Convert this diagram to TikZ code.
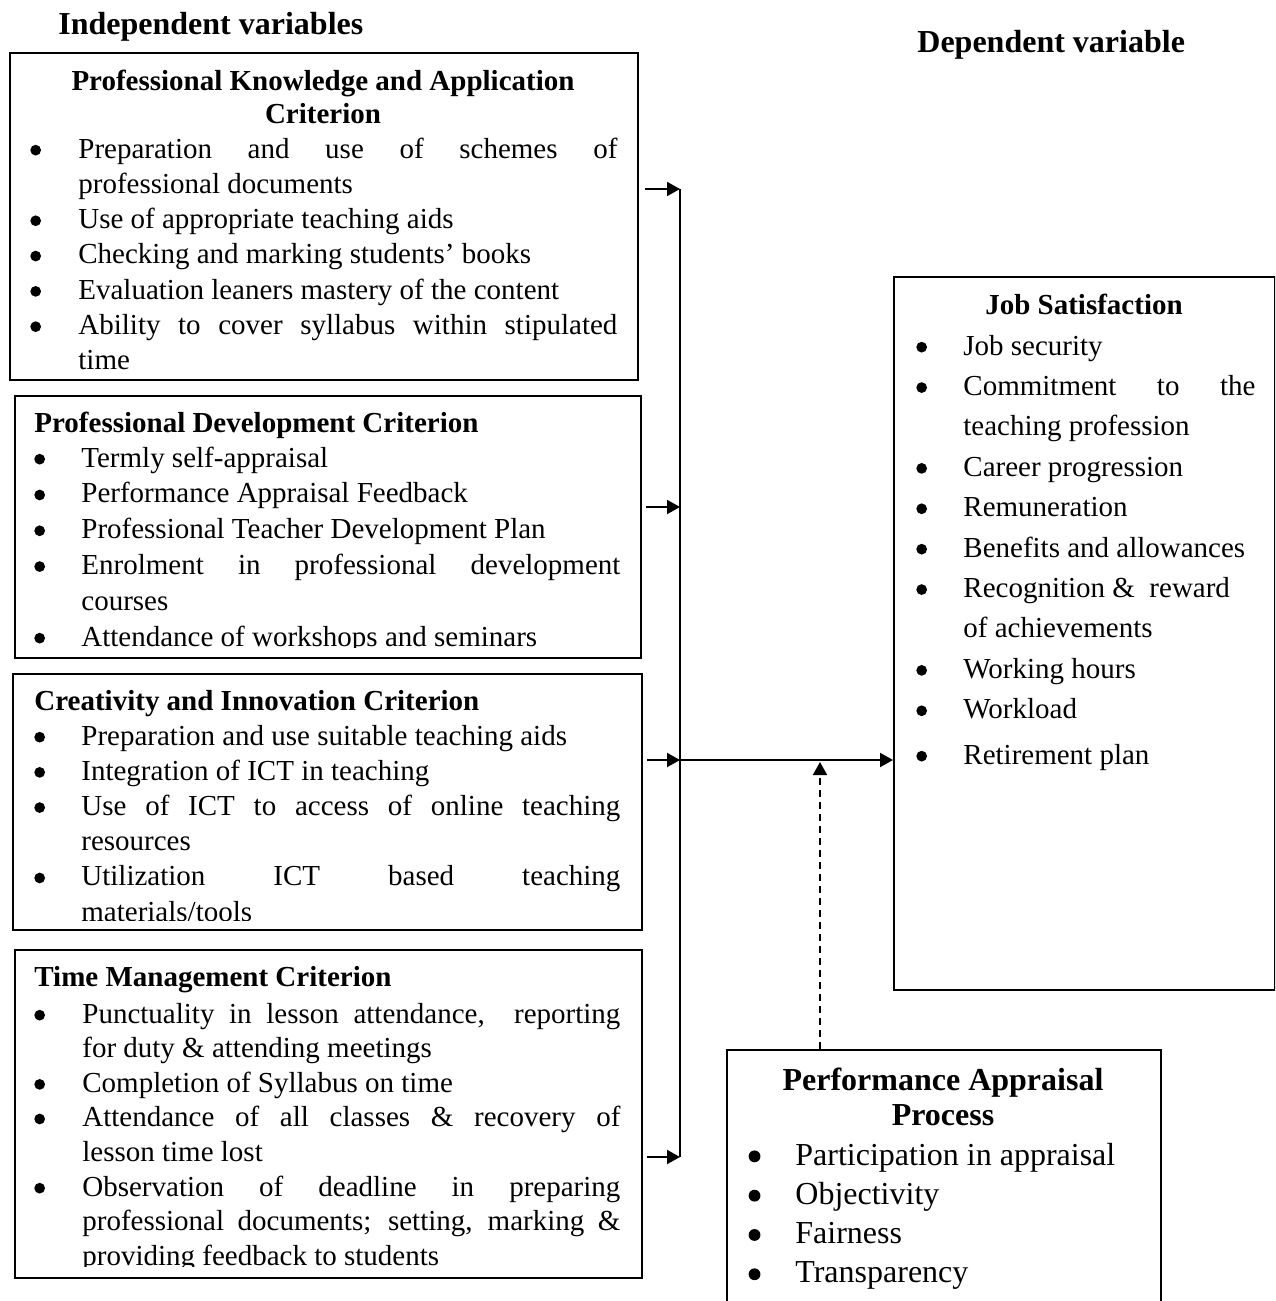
\documentclass[tikz,border=0pt]{standalone}
\usepackage{fontspec}
\setmainfont{Liberation Serif}
\usepackage{tikz}
\usetikzlibrary{arrows.meta}

\newdimen\px \px=0.5pt
\newlength\bulind
\newcommand{\bigdot}{\hspace{0.1em}\tikz[baseline=0pt]\fill (0,0.27em) circle (0.185em);}
\newcommand{\bitem}[1]{\par\hangindent=\bulind\hangafter=1\noindent\makebox[\bulind][l]{\bigdot}#1}
\newcommand{\listfont}[2]{\fontsize{#1}{#2}\selectfont\hyphenpenalty=10000\exhyphenpenalty=10000\tolerance=10000\lineskiplimit=-50pt}
\newcommand{\boxhead}{\fontsize{14.5pt}{17pt}\selectfont\bfseries}
\newcommand{\varhead}{\fontsize{16pt}{19pt}\selectfont\bfseries}

\begin{document}
\begin{tikzpicture}[x=0.5pt,y=-0.5pt,
    frame/.style={draw, line width=1pt, inner sep=0pt, anchor=north west},
    list/.style={anchor=base west, inner sep=0pt},
    head/.style={anchor=base west, inner sep=0pt, font=\boxhead},
    conn/.style={line width=1pt},
    arr/.style={conn, -{Triangle[length=6.5pt,width=7pt]}},
    dasharr/.style={arr, line width=0.8pt, dash pattern=on 3.5pt off 2.5pt}]
  \path[use as bounding box, clip] (0,0) rectangle (1275,1301);

  \node[anchor=base west, inner sep=0pt, font=\varhead] (indep) at (58,34) {Independent variables};
  \node[anchor=base west, inner sep=0pt, font=\varhead] (dep) at (917,53) {Dependent variable};

  \node[frame, minimum width=314pt, minimum height=163.5pt] (pk) at (9,52) {};
  \node[frame, minimum width=313pt, minimum height=131pt] (pd) at (14,395) {};
  \node[frame, minimum width=314.5pt, minimum height=128pt] (ci) at (12,673) {};
  \node[frame, minimum width=313.5pt, minimum height=164pt] (tm) at (14,949) {};
  \node[frame, minimum width=190.5pt, minimum height=356.5pt] (js) at (893,276) {};
  \node[frame, minimum width=217pt, minimum height=140pt] (pa) at (726,1049) {};

  \begin{scope}
    \clip (pk.south west) rectangle (pk.north east);
    \node[anchor=base, inner sep=0pt] (pktitle) at (323,90) {\begin{minipage}[t]{620\px}\centering\boxhead
      Professional Knowledge and Application\\ Criterion\end{minipage}};
    \node[list] (pklist) at (27,158) {\begin{minipage}[t]{590\px}\listfont{14.5pt}{17.65pt}\bulind=51\px
      \bitem{Preparation and use of schemes of\linebreak professional documents}
      \bitem{Use of appropriate teaching aids}
      \bitem{Checking and marking students' books}
      \bitem{Evaluation leaners mastery of the content}
      \bitem{Ability to cover syllabus within stipulated\linebreak time}
    \end{minipage}};
  \end{scope}

  \begin{scope}
    \clip ([yshift=6pt]pd.south west) rectangle (pd.north east);
    \node[head] (pdtitle) at (34,432) {Professional Development Criterion};
    \node[list] (pdlist) at (31,467) {\begin{minipage}[t]{589\px}\listfont{14.5pt}{17.9pt}\bulind=50\px
      \bitem{Termly self-appraisal}
      \bitem{Performance Appraisal Feedback}
      \bitem{Professional Teacher Development Plan}
      \bitem{Enrolment in professional development\linebreak courses}
      \bitem{Attendance of workshops and seminars}
    \end{minipage}};
  \end{scope}

  \begin{scope}
    \clip ([yshift=5.5pt]ci.south west) rectangle (ci.north east);
    \node[head] (cititle) at (34,710) {Creativity and Innovation Criterion};
    \node[list] (cilist) at (31,745) {\begin{minipage}[t]{589\px}\listfont{14.5pt}{17.6pt}\bulind=50\px
      \bitem{Preparation and use suitable teaching aids}
      \bitem{Integration of ICT in teaching}
      \bitem{Use of ICT to access of online teaching\linebreak resources}
      \bitem{Utilization ICT based teaching\linebreak materials/tools}
    \end{minipage}};
  \end{scope}

  \begin{scope}
    \clip ([yshift=6.5pt]tm.south west) rectangle (tm.north east);
    \node[head] (tmtitle) at (34,986) {Time Management Criterion};
    \node[list] (tmlist) at (31,1023) {\begin{minipage}[t]{589\px}\listfont{14.5pt}{17.3pt}\bulind=51\px
      \bitem{Punctuality in lesson attendance,\ \ reporting\linebreak for duty \& attending meetings}
      \bitem{Completion of Syllabus on time}
      \bitem{Attendance of all classes \& recovery of\linebreak lesson time lost}
      \bitem{Observation of deadline in preparing\linebreak professional documents; setting, marking \&\linebreak providing feedback to students}
    \end{minipage}};
  \end{scope}

  \node[anchor=base, inner sep=0pt, font=\boxhead] (jstitle) at (1084,314) {Job Satisfaction};
  \node[list] (jslist) at (913,355) {\begin{minipage}[t]{342\px}\listfont{14.5pt}{20.2pt}\bulind=50\px
    \bitem{Job security}
    \bitem{Commitment to the\linebreak teaching profession}
    \bitem{Career progression}
    \bitem{Remuneration}
    \bitem{Benefits and allowances}
    \bitem{Recognition \&\ \ reward\\ of achievements}
    \bitem{Working hours}
    \bitem{Workload}
    \par\vspace{2.5pt}
    \bitem{Retirement plan}
  \end{minipage}};

  \node[anchor=base, inner sep=0pt] (patitle) at (943,1090) {\begin{minipage}[t]{420\px}\centering\fontsize{16pt}{17.5pt}\selectfont\bfseries
    Performance Appraisal\\ Process\end{minipage}};
  \node[list] (palist) at (745,1165) {\begin{minipage}[t]{400\px}\listfont{16pt}{19.65pt}\bulind=50\px
    \bitem{Participation in appraisal}
    \bitem{Objectivity}
    \bitem{Fairness}
    \bitem{Transparency}
  \end{minipage}};

  \coordinate (bustop) at (680,189);
  \coordinate (pdin) at (680,507);
  \coordinate (hub) at (680,760);
  \coordinate (busbot) at (680,1157);
  \coordinate (dashtip) at (820,762);

  \draw[conn] (bustop) -- (busbot);
  \draw[arr, shorten <=3pt] (pk.east |- bustop) -- (bustop);
  \draw[arr, shorten <=2pt] (pd.east |- pdin) -- (pdin);
  \draw[arr, shorten <=2pt] (ci.east |- hub) -- (hub);
  \draw[arr, shorten <=2pt] (tm.east |- busbot) -- (busbot);
  \draw[arr] (hub) -- (js.west |- hub);
  \draw[dasharr] (pa.north -| dashtip) -- (dashtip);
\end{tikzpicture}
\end{document}
